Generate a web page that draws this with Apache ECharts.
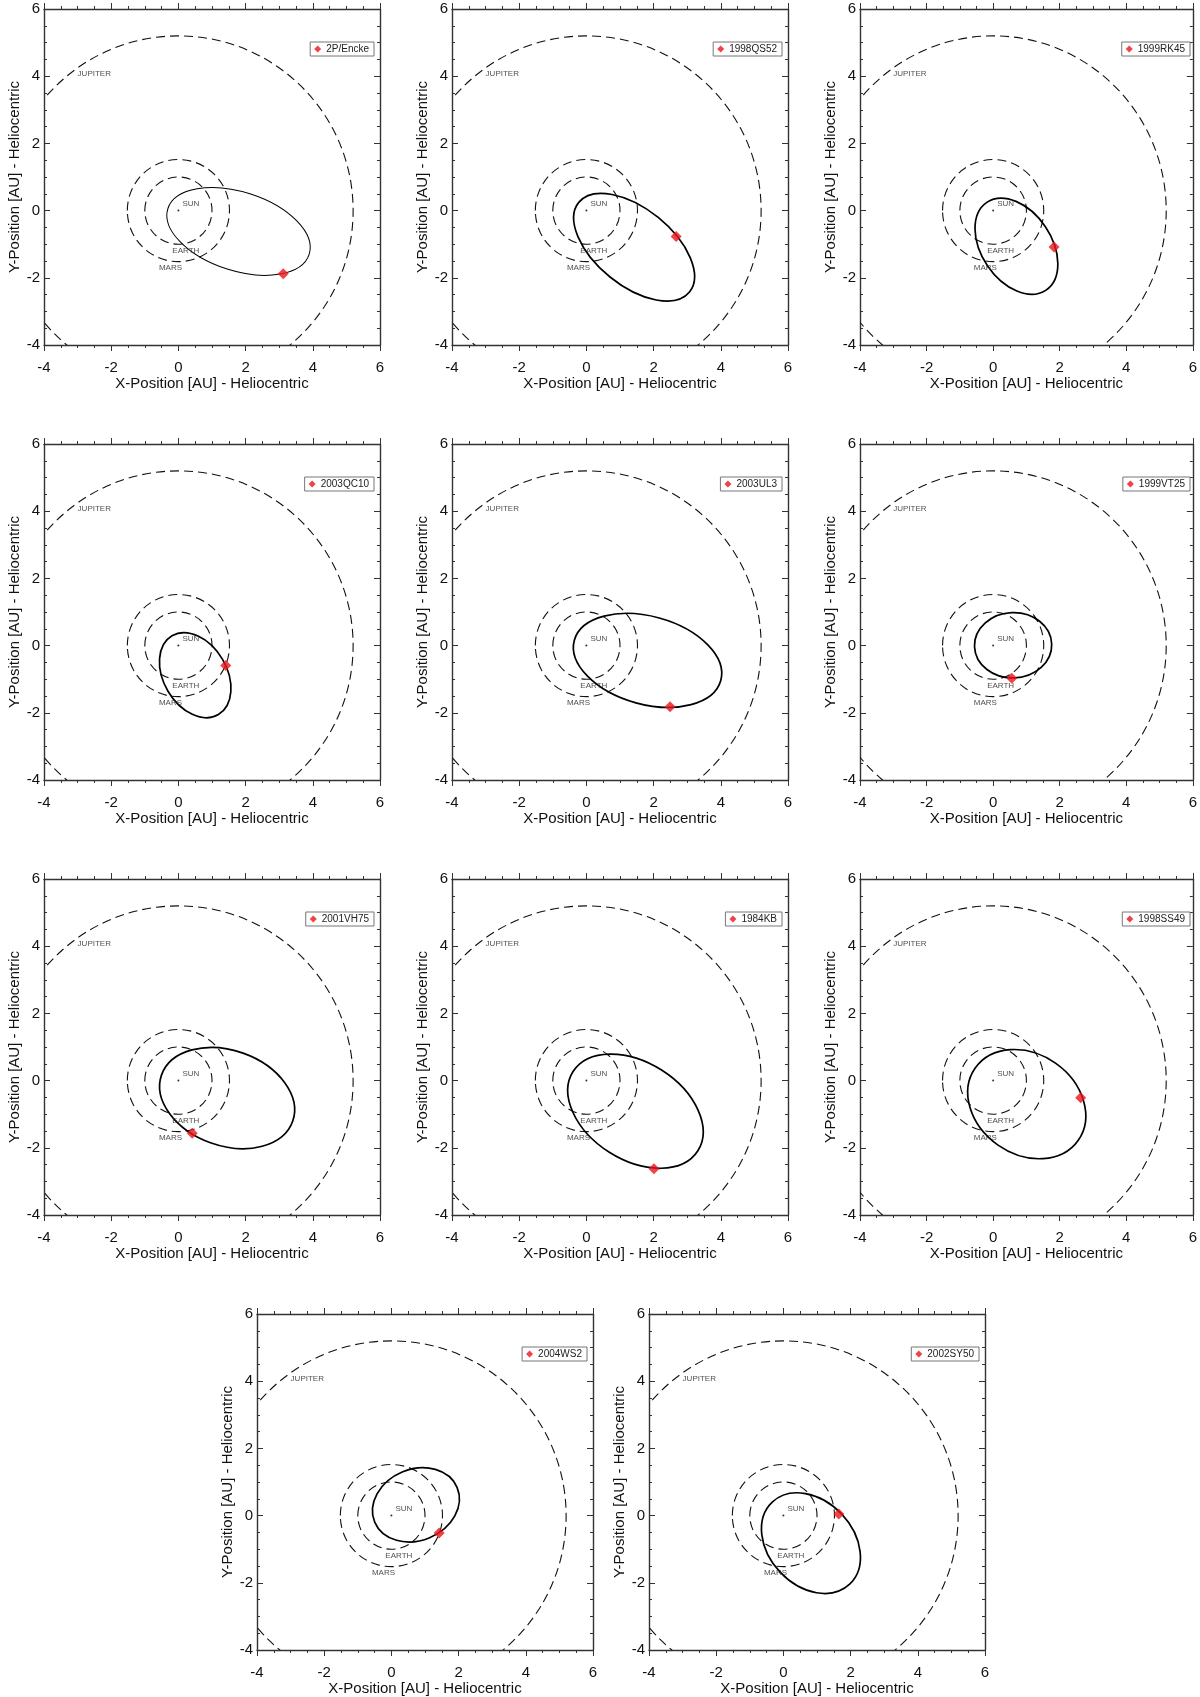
<!DOCTYPE html>
<html>
<head>
<meta charset="utf-8">
<script src="https://cdn.jsdelivr.net/npm/echarts@6/dist/echarts.min.js"></script>
<style>
html,body{margin:0;padding:0;background:#fff}
#chart{width:1200px;height:1697px}
</style>
</head>
<body>
<div id="chart"></div>
<script>
// asteroid orbits (AU): centre, semi-axes, tilt of major axis (deg)
const asteroidNames = ['2P/Encke', '1998QS52', '1999RK45', '2003QC10', '2003UL3', '1999VT25',
  '2001VH75', '1984KB', '1998SS49', '2004WS2', '2002SY50'];
const orbitCenterX = [1.79, 1.42, 0.70, 0.50, 1.82, 0.60, 1.45, 1.46, 1.01, 0.73, 0.82];
const orbitCenterY = [-0.62, -1.09, -1.06, -0.88, -0.44, 0.01, -0.52, -0.91, -0.70, 0.32, -0.82];
const orbitSemiMajor = [2.21, 2.12, 1.59, 1.36, 2.26, 1.16, 2.07, 2.20, 1.89, 1.33, 1.68];
const orbitSemiMinor = [1.17, 1.14, 1.04, 0.94, 1.31, 0.97, 1.42, 1.45, 1.49, 1.06, 1.26];
const orbitTilt = [-18, -39, -56, -59.5, -15.4, 2, -19.5, -32.4, -35, 22.7, -46.7];
// current position of each object
const currentX = [3.12, 2.67, 1.83, 1.41, 2.49, 0.56, 0.41, 2.01, 2.63, 1.42, 1.65];
const currentY = [-1.88, -0.77, -1.08, -0.59, -1.82, -0.97, -1.57, -2.62, -0.51, -0.52, 0.05];

// planet orbits (circles about the sun)
const planetNames = ['EARTH', 'MARS', 'JUPITER'];
const planetRadius = [1.0, 1.52, 5.2];

// text labels inside every panel
const labelText = ['JUPITER', 'SUN', 'EARTH', 'MARS'];
const labelX = [-3.0, 0.12, -0.18, -0.58];
const labelY = [4.07, 0.19, -1.21, -1.71];

const axisMin = -4, axisMax = 6, axisStep = 2;

// panel layout (px)
const panelLeft = [44, 452, 860, 44, 452, 860, 44, 452, 860, 257, 649];
const panelTop = [9, 9, 9, 444, 444, 444, 879, 879, 879, 1314, 1314];
const panelSize = 336;

const FONT = "'Liberation Sans Narrow', 'Liberation Sans', Arial, sans-serif";
const RED = '#e8141c';

const chart = echarts.init(document.getElementById('chart'), null, {renderer: 'canvas'});

function ellipseItem(stroke, width, dash) {
  return function (params, api) {
    var c = api.coord([api.value(0), api.value(1)]);
    var s = api.size([api.value(2), api.value(3)]);
    return {
      type: 'ellipse',
      shape: {cx: c[0], cy: c[1], rx: s[0], ry: s[1]},
      rotation: api.value(4) * Math.PI / 180,
      originX: c[0],
      originY: c[1],
      style: {fill: null, stroke: stroke, lineWidth: width, lineDash: dash}
    };
  };
}

var grids = [], xAxes = [], yAxes = [], legends = [], series = [];

function axisCommon(extra) {
  return Object.assign({
    type: 'value', min: axisMin, max: axisMax, interval: axisStep,
    splitLine: {show: false},
    axisLine: {show: true, onZero: false, lineStyle: {color: '#333', width: 1.4}},
    axisTick: {show: true, length: 6, lineStyle: {color: '#333', width: 1}},
    minorTick: {show: true, splitNumber: 4, length: 3, lineStyle: {color: '#333', width: 1}},
    minorSplitLine: {show: false}
  }, extra);
}

asteroidNames.forEach(function (name, i) {
  grids.push({left: panelLeft[i], top: panelTop[i], width: panelSize, height: panelSize});

  xAxes.push(axisCommon({
    gridIndex: i, position: 'bottom',
    axisTick: {show: true, inside: false, length: 6, lineStyle: {color: '#333'}},
    axisLabel: {show: true, margin: 15, fontSize: 15, color: '#111', fontFamily: FONT},
    name: 'X-Position [AU] - Heliocentric', nameLocation: 'middle', nameGap: 29,
    nameTextStyle: {fontSize: 15, color: '#111', fontFamily: FONT}
  }));
  xAxes.push(axisCommon({
    gridIndex: i, position: 'top',
    axisTick: {show: true, inside: false, length: 6, lineStyle: {color: '#333'}},
    axisLabel: {show: false}
  }));
  yAxes.push(axisCommon({
    gridIndex: i, position: 'left',
    axisTick: {show: true, inside: true, length: 6, lineStyle: {color: '#333'}},
    minorTick: {show: true, splitNumber: 4, length: 3, lineStyle: {color: '#333'}},
    axisLabel: {show: true, margin: 4, fontSize: 15, color: '#111', fontFamily: FONT},
    name: 'Y-Position [AU] - Heliocentric', nameLocation: 'middle', nameGap: 22,
    nameTextStyle: {fontSize: 15, color: '#111', fontFamily: FONT}
  }));
  yAxes.push(axisCommon({
    gridIndex: i, position: 'right',
    axisTick: {show: true, inside: true, length: 6, lineStyle: {color: '#333'}},
    minorTick: {show: true, splitNumber: 4, length: 3, lineStyle: {color: '#333'}},
    axisLabel: {show: false}
  }));

  var xi = i * 2, yi = i * 2;

  series.push({
    type: 'custom', name: 'planets', xAxisIndex: xi, yAxisIndex: yi, clip: true,
    renderItem: ellipseItem('#111', 1.1, [9, 5]),
    data: planetNames.map(function (p, k) { return [0, 0, planetRadius[k], planetRadius[k], 0]; }),
    silent: true, z: 2
  });
  series.push({
    type: 'custom', name: name + ' orbit', xAxisIndex: xi, yAxisIndex: yi, clip: true,
    renderItem: ellipseItem('#000', i === 0 ? 1 : 1.7, null),
    data: [[orbitCenterX[i], orbitCenterY[i], orbitSemiMajor[i], orbitSemiMinor[i], orbitTilt[i]]],
    silent: true, z: 3
  });
  series.push({
    type: 'scatter', name: 'labels', xAxisIndex: xi, yAxisIndex: yi,
    symbolSize: 0, silent: true, z: 4,
    label: {
      show: true, position: 'right', distance: 0, fontSize: 8, color: '#222', fontFamily: FONT,
      formatter: function (p) { return p.value[2]; }
    },
    data: labelText.map(function (t, k) { return [labelX[k], labelY[k], t]; })
  });
  series.push({
    type: 'scatter', name: 'sun', xAxisIndex: xi, yAxisIndex: yi,
    symbolSize: 2, itemStyle: {color: '#000'}, silent: true, z: 4,
    data: [[0, 0]]
  });
  series.push({
    type: 'scatter', name: name, xAxisIndex: xi, yAxisIndex: yi,
    symbol: 'diamond', symbolSize: 11, itemStyle: {color: RED}, z: 6,
    data: [[currentX[i], currentY[i]]]
  });

  legends.push({
    data: [name], selectedMode: false,
    right: 1200 - (panelLeft[i] + panelSize) + 6, top: panelTop[i] + 33,
    backgroundColor: '#fff', borderColor: '#777', borderWidth: 1,
    padding: [2, 5, 2, 4], itemWidth: 7, itemHeight: 7, icon: 'diamond',
    textStyle: {fontSize: 10, color: '#222', fontFamily: FONT}
  });
});

chart.setOption({
  animation: false,
  backgroundColor: '#fff',
  grid: grids,
  xAxis: xAxes,
  yAxis: yAxes,
  legend: legends,
  series: series
});
</script>
</body>
</html>
